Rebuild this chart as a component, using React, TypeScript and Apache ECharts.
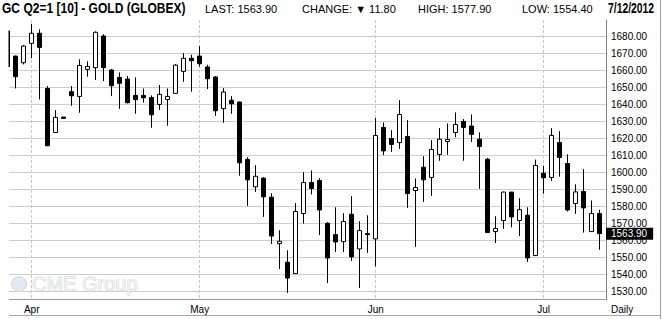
import React, { useEffect, useRef } from 'react';
import * as echarts from 'echarts';

// Trading days (2012), M/D
const dates = [
  '3/28', '3/29', '3/30',
  '4/2', '4/3', '4/4', '4/5', '4/6', '4/9', '4/10', '4/11', '4/12', '4/13', '4/16', '4/17', '4/18', '4/19', '4/20', '4/23', '4/24', '4/25', '4/26', '4/27', '4/30',
  '5/1', '5/2', '5/3', '5/4', '5/7', '5/8', '5/9', '5/10', '5/11', '5/14', '5/15', '5/16', '5/17', '5/18', '5/21', '5/22', '5/23', '5/24', '5/25', '5/29', '5/30', '5/31',
  '6/1', '6/4', '6/5', '6/6', '6/7', '6/8', '6/11', '6/12', '6/13', '6/14', '6/15', '6/18', '6/19', '6/20', '6/21', '6/22', '6/25', '6/26', '6/27', '6/28', '6/29',
  '7/2', '7/3', '7/5', '7/6', '7/9', '7/10', '7/11', '7/12',
];

const opens = [
  1683.0, 1668.2, 1664.3, 1675.7, 1681.6, 1649.2, 1623.3, 1632.4, 1647.3, 1644.5,
  1660.4, 1661.4, 1680.0, 1660.0, 1655.7, 1654.7, 1645.1, 1645.1, 1643.9, 1639.8,
  1642.7, 1646.3, 1659.2, 1666.9, 1668.2, 1661.8, 1655.9, 1637.3, 1642.3, 1641.2,
  1607.5, 1591.4, 1596.5, 1585.3, 1558.0, 1547.1, 1540.4, 1575.7, 1593.9, 1595.1,
  1570.0, 1563.3, 1559.2, 1575.3, 1554.9, 1563.9, 1560.8, 1626.3, 1619.8, 1617.4,
  1621.0, 1589.2, 1602.9, 1596.9, 1610.4, 1618.0, 1623.3, 1629.8, 1627.1, 1619.4,
  1607.6, 1565.1, 1571.6, 1588.3, 1571.6, 1574.7, 1551.0, 1599.4, 1596.9, 1617.4,
  1605.1, 1581.6, 1588.6, 1565.1, 1575.7,
];
const closes = [
  1662.0, 1656.1, 1674.1, 1681.6, 1673.3, 1615.5, 1632.2, 1631.6, 1644.9, 1662.7,
  1662.1, 1682.2, 1661.4, 1650.8, 1652.2, 1640.8, 1642.6, 1643.7, 1633.7, 1645.7,
  1644.5, 1662.9, 1666.9, 1665.5, 1663.7, 1654.9, 1636.1, 1647.1, 1640.2, 1605.5,
  1595.5, 1597.6, 1585.5, 1562.5, 1559.4, 1537.8, 1576.9, 1593.9, 1590.4, 1577.8,
  1549.6, 1559.0, 1571.0, 1550.2, 1565.7, 1563.3, 1621.6, 1612.5, 1616.3, 1633.9,
  1587.4, 1591.0, 1595.5, 1613.3, 1619.4, 1619.2, 1628.0, 1626.3, 1622.2, 1615.1,
  1564.5, 1566.9, 1588.3, 1573.7, 1578.0, 1549.6, 1603.9, 1596.7, 1621.6, 1608.6,
  1577.8, 1588.4, 1579.0, 1575.7, 1563.9,
];
const lows = [
  1660.0, 1649.2, 1663.3, 1666.9, 1642.7, 1615.3, 1623.0, 1631.6, 1639.0, 1634.9,
  1656.1, 1654.1, 1653.5, 1644.7, 1637.2, 1640.4, 1634.3, 1640.8, 1626.1, 1636.5,
  1627.3, 1646.1, 1653.1, 1647.3, 1662.0, 1648.8, 1633.1, 1629.0, 1634.3, 1598.0,
  1580.2, 1588.4, 1573.7, 1557.8, 1543.1, 1529.0, 1540.2, 1569.8, 1586.9, 1563.1,
  1534.9, 1553.1, 1553.1, 1547.8, 1532.0, 1552.5, 1544.7, 1610.0, 1611.9, 1613.7,
  1579.0, 1556.1, 1582.5, 1586.1, 1606.7, 1610.2, 1620.4, 1606.7, 1617.8, 1590.2,
  1564.3, 1558.4, 1566.7, 1567.6, 1562.5, 1547.3, 1550.8, 1587.3, 1594.9, 1597.4,
  1576.9, 1575.5, 1564.5, 1565.0, 1554.4,
];
const highs = [
  1684.0, 1668.5, 1674.7, 1687.1, 1683.9, 1650.6, 1636.5, 1632.4, 1650.6, 1666.3,
  1665.1, 1682.7, 1681.0, 1660.6, 1658.6, 1656.5, 1655.7, 1649.2, 1645.1, 1651.2,
  1649.2, 1663.5, 1670.0, 1669.0, 1674.1, 1663.1, 1656.5, 1649.4, 1644.7, 1641.4,
  1608.8, 1604.1, 1597.1, 1587.6, 1565.9, 1554.1, 1581.8, 1600.0, 1601.0, 1596.5,
  1570.6, 1579.4, 1575.9, 1585.9, 1571.2, 1574.7, 1631.8, 1629.2, 1624.7, 1642.3,
  1630.6, 1596.3, 1609.4, 1618.8, 1625.9, 1628.6, 1635.1, 1631.2, 1633.9, 1623.5,
  1608.4, 1574.1, 1588.6, 1588.4, 1584.7, 1579.4, 1607.4, 1603.7, 1625.9, 1624.1,
  1610.4, 1592.9, 1601.8, 1583.3, 1577.9,
];

const priceTicks = [1530, 1540, 1550, 1560, 1570, 1580, 1590, 1600, 1610, 1620, 1630, 1640, 1650, 1660, 1670, 1680];
const monthNames = ['Jan', 'Feb', 'Mar', 'Apr', 'May', 'Jun', 'Jul', 'Aug', 'Sep', 'Oct', 'Nov', 'Dec'];
const titleText = 'GC Q2=1 [10] - GOLD (GLOBEX)';
const asOfText = '7/12/2012';
const periodText = 'Daily';
const watermarkText = 'CME Group';

const FONT = '"Liberation Sans", Arial, sans-serif';

export default function App() {
  const ref = useRef<HTMLDivElement>(null);

  useEffect(() => {
    const chart = echarts.init(ref.current as HTMLDivElement, null, { renderer: 'svg' });
    const n = dates.length;
    const data = dates.map((_, i) => [i, opens[i], closes[i], lows[i], highs[i]]);
    const monthStarts: number[] = [];
    const monthLabel: Record<number, string> = {};
    dates.forEach((d, i) => {
      const m = d.split('/')[0];
      if (i > 0 && m !== dates[i - 1].split('/')[0]) {
        monthStarts.push(i);
        monthLabel[i] = monthNames[Number(m) - 1];
      }
    });
    const last = closes[n - 1];
    const change = closes[n - 1] - closes[n - 2];
    const hi = highs[n - 1];
    const lo = lows[n - 1];

    const smallText = (text: string, x: number) => ({
      type: 'text', x, y: 9, z: 50,
      style: { text, fill: '#000', fontFamily: FONT, fontSize: 11, verticalAlign: 'middle', align: 'left' },
    });

    chart.setOption({
      animation: false,
      backgroundColor: '#fff',
      grid: { left: 9, right: 56, top: 20, height: 279.5, containLabel: false },
      xAxis: {
        type: 'value',
        min: 0.16,
        max: 74.79,
        axisLine: { show: true, onZero: false, lineStyle: { color: '#9a9a9a', width: 1 } },
        axisTick: { show: false, customValues: monthStarts },
        axisLabel: {
          customValues: monthStarts,
          formatter: (v: number) => monthLabel[Math.round(v)] || '',
          color: '#000', fontFamily: FONT, fontSize: 10, margin: 5,
        },
        splitLine: { show: true, lineStyle: { color: '#c6c6c6', type: [3, 2], width: 1 } },
      },
      yAxis: {
        type: 'value',
        position: 'right',
        min: 1525.2,
        max: 1689.4,
        axisLine: { show: true, lineStyle: { color: '#808080', width: 1 } },
        axisTick: { show: false, customValues: priceTicks },
        axisLabel: {
          customValues: priceTicks,
          formatter: (v: number) => v.toFixed(2),
          color: '#000', fontFamily: FONT, fontSize: 10, margin: 5,
        },
        splitLine: { show: true, lineStyle: { color: '#cdcdcd', width: 1 } },
      },
      series: [
        {
          type: 'candlestick',
          data,
          encode: { x: 0, y: [1, 2, 3, 4] },
          barWidth: 5,
          itemStyle: {
            color: '#ffffff',
            color0: '#000000',
            borderColor: '#000000',
            borderColor0: '#000000',
            borderColorDoji: '#000000',
            borderWidth: 1,
          },
          markLine: {
            silent: true,
            symbol: ['none', 'none'],
            lineStyle: { color: 'rgba(0,0,0,0)', width: 0 },
            label: {
              show: true,
              position: 'end',
              distance: 0,
              formatter: () => last.toFixed(2),
              backgroundColor: '#000',
              color: '#fff',
              fontFamily: FONT,
              fontSize: 10,
              lineHeight: 10,
              padding: [1, 6, 1, 5],
            },
            data: [{ yAxis: last }],
          },
        },
      ],
      graphic: [
        // mask for the partly visible first candle
        { type: 'rect', z: 40, shape: { x: 0, y: 18, width: 8.5, height: 284 }, style: { fill: '#fff' } },
        // watermark
        { type: 'circle', z: 1, shape: { cx: 19, cy: 284, r: 7.5 }, style: { fill: '#e3e9f1', stroke: '#cfd8e4', lineWidth: 1 } },
        {
          type: 'text', x: 32, y: 284, z: 1,
          style: { text: watermarkText, fontFamily: FONT, fontSize: 20, fill: '#f1f1f4', stroke: '#d3d3db', lineWidth: 1, verticalAlign: 'middle', align: 'left' },
        },
        // header
        {
          type: 'text', x: 2, y: 8, z: 50, scaleX: 0.86,
          style: { text: titleText, fill: '#000', fontFamily: FONT, fontSize: 14, fontWeight: 'bold', verticalAlign: 'middle', align: 'left' },
        },
        smallText('LAST: ' + last.toFixed(2), 205),
        smallText('CHANGE: ' + (change < 0 ? '▼ ' : '▲ ') + Math.abs(change).toFixed(2), 302),
        smallText('HIGH: ' + hi.toFixed(2), 418),
        smallText('LOW: ' + lo.toFixed(2), 522),
        {
          type: 'text', x: 608, y: 8, z: 50, scaleX: 0.74,
          style: { text: asOfText, fill: '#000', fontFamily: FONT, fontSize: 14, fontWeight: 'bold', verticalAlign: 'middle', align: 'left' },
        },
        // frame lines
        { type: 'line', z: 50, shape: { x1: 9, y1: 315.5, x2: 661, y2: 315.5 }, style: { stroke: '#a8a8a8', lineWidth: 1 } },
        { type: 'line', z: 50, shape: { x1: 660.5, y1: 0, x2: 660.5, y2: 319 }, style: { stroke: '#a0a0a0', lineWidth: 1 } },
        {
          type: 'text', x: 611, y: 309, z: 50,
          style: { text: periodText, fill: '#000', fontFamily: FONT, fontSize: 10, verticalAlign: 'middle', align: 'left' },
        },
      ],
    });

    return () => chart.dispose();
  }, []);

  return (
    <div
      ref={ref}
      style={{ position: 'fixed', left: 0, top: 0, width: 662, height: 319, background: '#fff' }}
    />
  );
}
